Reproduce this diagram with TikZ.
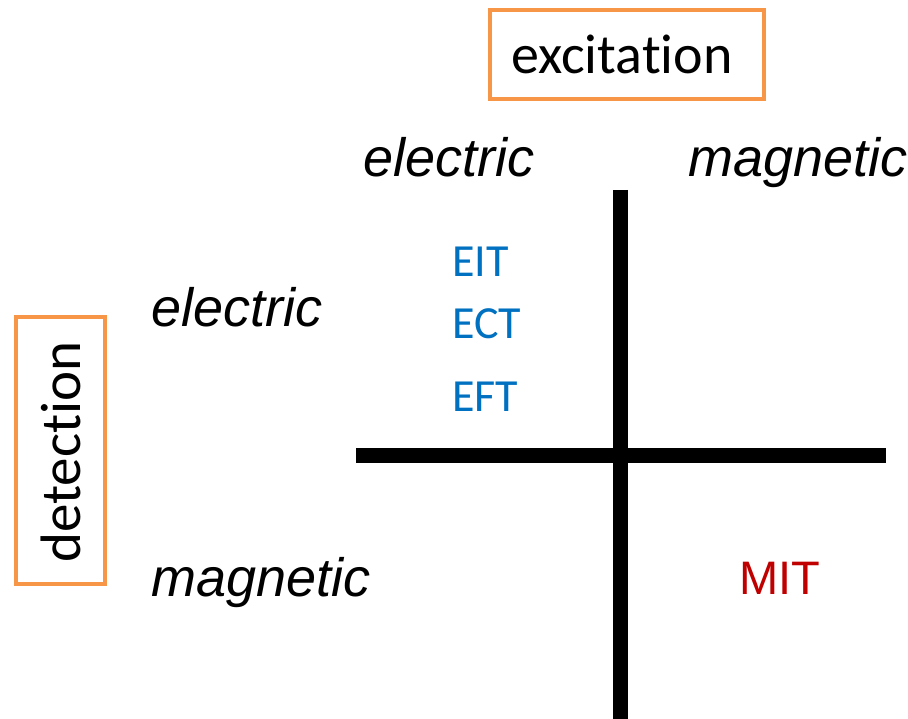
\documentclass[tikz,border=0pt]{standalone}
\usepackage{fontspec}
\setmainfont[Ligatures=NoCommon]{Carlito}
\newfontfamily\arialfont{Liberation Sans}
\definecolor{boxorange}{HTML}{F79646}
\definecolor{blueT}{HTML}{0070C0}
\definecolor{redT}{HTML}{C00000}
\begin{document}
\begin{tikzpicture}[x=1pt,y=-1pt,
  lab/.style={inner sep=0pt,anchor=base west,font=\arialfont\itshape\fontsize{54}{58}\selectfont},
  bluelab/.style={inner sep=0pt,anchor=base west,text=blueT,font=\fontsize{46}{50}\selectfont},
  axis/.style={line width=15pt,black},
  obox/.style={draw=boxorange,line width=4pt}]
\useasboundingbox (0,0) rectangle (908,719);
% boxes
\draw[obox] (490,10) rectangle (764,99);
\node[inner sep=0pt,anchor=base west,font=\fontsize{56}{60}\selectfont] (exc) at (511,74) {excitation};
\draw[obox] (16,317) rectangle (105,584);
\node[inner sep=0pt,anchor=base west,rotate=90,font=\fontsize{57}{60}\selectfont] (det) at (80,563) {detection};
% axis lines
\coordinate (vt) at (620,190);
\coordinate (vb) at (620,719);
\coordinate (hl) at (356,455);
\coordinate (hr) at (886,455);
\draw[axis] (vt) -- (vb);
\draw[axis] (hl) -- (hr);
% labels
\node[lab] (exE) at (363,177) {electric};
\node[lab] (exM) at (688,177) {magnetic};
\node[lab] (deE) at (151,327) {electric};
\node[lab] (deM) at (151,596) {magnetic};
\node[bluelab] (eit) at (452,277) {EIT};
\node[bluelab] (ect) at (452,339) {ECT};
\node[bluelab] (eft) at (452,411) {EFT};
\node[inner sep=0pt,anchor=base west,text=redT,font=\arialfont\fontsize{47}{50}\selectfont] (mit) at (739,594) {MIT};
\end{tikzpicture}
\end{document}
